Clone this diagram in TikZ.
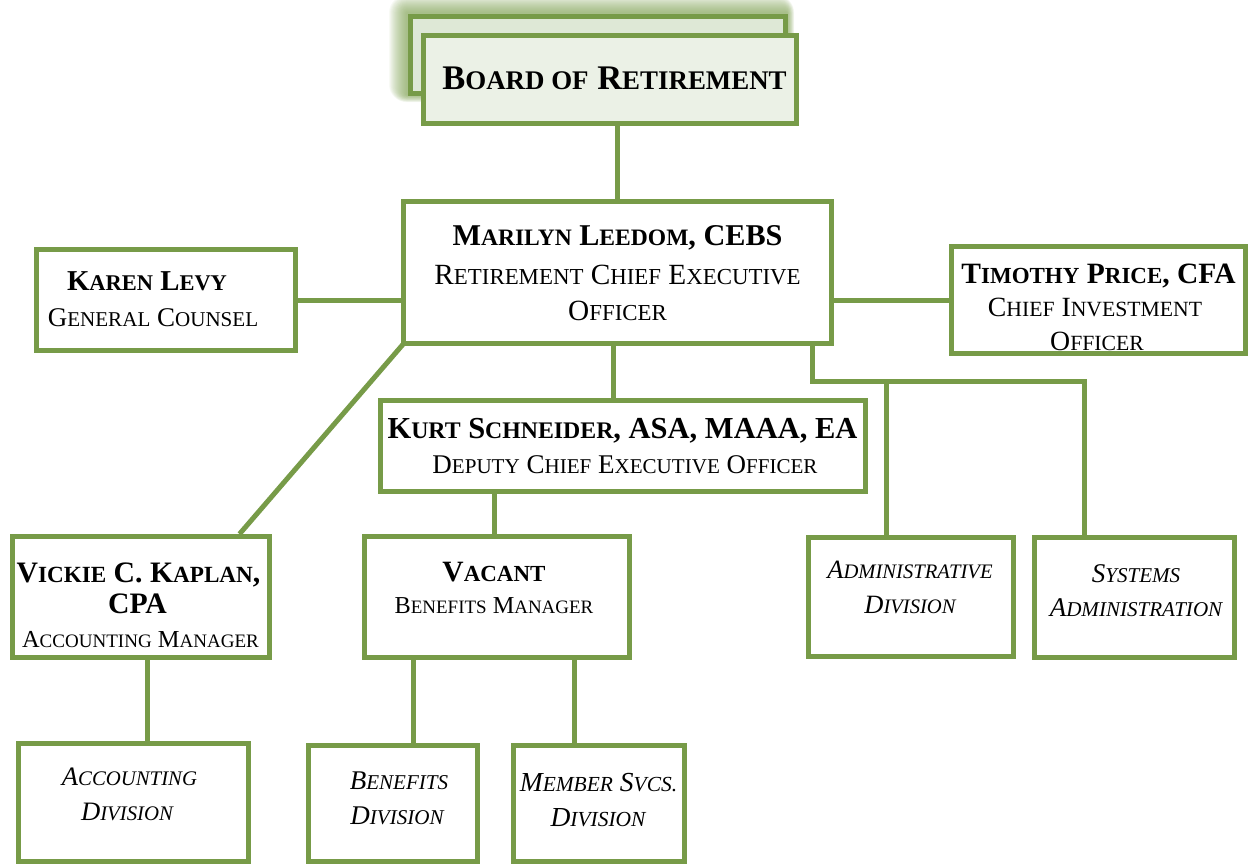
\documentclass[tikz,border=0pt]{standalone}
\usepackage{fontspec}
\usepackage{graphicx}
\setmainfont{Liberation Serif}
\usetikzlibrary{backgrounds}
\definecolor{og}{RGB}{119,155,72}
\definecolor{bfront}{RGB}{235,241,230}
\definecolor{bback}{RGB}{222,232,214}
\newcommand\smc[1]{\scalebox{0.78}{#1}}
\newcommand\bx[6][]{%
  \node[box,#1,minimum width={(#4-#2-5)*1pt},minimum height={(#5-#3-5)*1pt}] (#6) at ({(#2+#4)/2},{(#3+#5)/2}) {};}
\tikzset{
  box/.style={draw=og,line width=5pt,fill=white,inner sep=0pt},
  conn/.style={draw=og,line width=5pt},
  txt/.style={inner sep=0pt,text=black,anchor=base},
  bf/.style={txt,font=\fontsize{#1}{#1}\selectfont\bfseries},
  rg/.style={txt,font=\fontsize{#1}{#1}\selectfont},
  it/.style={txt,font=\fontsize{#1}{#1}\selectfont\itshape},
}
\begin{document}
\begin{tikzpicture}[x=1pt,y=-1pt]
\useasboundingbox (0,0) rectangle (1252,865);
% glow behind the back board box
\foreach \d in {1,...,18}{
  \fill[og,opacity=0.055,rounded corners={\d pt}] ({407-\d},{13-\d}) rectangle ({787+0.4*\d},{95+0.4*\d});
}
\bx[fill=bback]{408}{14}{788}{96}{boardback}
\bx[fill=bfront]{421}{33}{799}{126}{board}
\node[bf=34.5] (board-t) at (614.5,89) {B\smc{OARD OF} R\smc{ETIREMENT}};
\bx{401}{199}{834}{346}{marilyn}
\bx{34}{247}{298}{353}{karen}
\bx{949}{244}{1248}{356}{timothy}
\bx{378}{398}{868}{494}{kurt}
\bx{10}{534}{272}{660}{vickie}
\bx{362}{534}{632}{660}{vacant}
\bx{806}{535}{1016}{659}{admin}
\bx{1032}{535}{1237}{660}{systems}
\bx{16}{741}{251}{864}{acct}
\bx{306}{743}{480}{864}{benef}
\bx{511}{743}{687}{864}{member}
\coordinate (j) at (812,381);
% connectors
\begin{scope}[on background layer]
\draw[conn] (marilyn.north) -- (marilyn.north |- board.south);
\draw[conn] (karen.east) -- (karen.east -| marilyn.west);
\draw[conn] (timothy.west) -- (timothy.west -| marilyn.east);
\draw[conn] ([xshift=-4.5pt]marilyn.south) -- ([xshift=-4.5pt]marilyn.south |- kurt.north);
\draw[conn] ([shift={(4pt,4pt)}]marilyn.south west) -- ([xshift=-32.5pt]vickie.north east);
\draw[conn] ([xshift=194.5pt]marilyn.south) |- ([xshift=-50.5pt]systems.north |- j) -- ([xshift=-50.5pt]systems.north);
\draw[conn] ([xshift=-25pt]admin.north |- j) -- ([xshift=-25pt]admin.north);
\draw[conn] ([xshift=-3pt]vacant.north) -- ([xshift=-3pt]vacant.north |- kurt.south);
\draw[conn] ([xshift=6pt]vickie.south) -- ([xshift=6pt]vickie.south |- acct.north);
\draw[conn] ([xshift=20pt]benef.north) -- ([xshift=20pt]benef.north |- vacant.south);
\draw[conn] ([xshift=-25pt]member.north) -- ([xshift=-25pt]member.north |- vacant.south);
\end{scope}
% texts
\node[bf=30.2] (marilyn-1) at (617.5,245) {M\smc{ARILYN} L\smc{EEDOM}, CEBS};
\node[rg=29.3] (marilyn-2) at (617.5,284) {R\smc{ETIREMENT} C\smc{HIEF} E\smc{XECUTIVE}};
\node[rg=29.3] (marilyn-3) at (617.5,320) {O\smc{FFICER}};
\node[bf=28.8] (karen-1) at (147,290) {K\smc{AREN} L\smc{EVY}};
\node[rg=27] (karen-2) at (153,326) {G\smc{ENERAL} C\smc{OUNSEL}};
\node[bf=29.5] (timothy-1) at (1098.5,283) {T\smc{IMOTHY} P\smc{RICE}, CFA};
\node[rg=27.8] (timothy-2) at (1095,316) {C\smc{HIEF} I\smc{NVESTMENT}};
\node[rg=27.8] (timothy-3) at (1097,350) {O\smc{FFICER}};
\node[bf=30.5] (kurt-1) at (622.5,438) {K\smc{URT} S\smc{CHNEIDER}, ASA, MAAA, EA};
\node[rg=27] (kurt-2) at (625,473) {D\smc{EPUTY} C\smc{HIEF} E\smc{XECUTIVE} O\smc{FFICER}};
\node[bf=29.7] (vickie-1) at (138.5,582) {V\smc{ICKIE} C. K\smc{APLAN},};
\node[bf=29.7] (vickie-2) at (137.5,613) {CPA};
\node[rg=24.4] (vickie-3) at (140.5,647) {A\smc{CCOUNTING} M\smc{ANAGER}};
\node[bf=29.5] (vacant-1) at (494,581) {V\smc{ACANT}};
\node[rg=24.3] (vacant-2) at (494,613) {B\smc{ENEFITS} M\smc{ANAGER}};
\node[it=26.4] (admin-1) at (910,578) {A\smc{DMINISTRATIVE}};
\node[it=26.4] (admin-2) at (910,613) {D\smc{IVISION}};
\node[it=27] (systems-1) at (1136,582) {S\smc{YSTEMS}};
\node[it=27] (systems-2) at (1136,616) {A\smc{DMINISTRATION}};
\node[it=26.6] (acct-1) at (129.5,785) {A\smc{CCOUNTING}};
\node[it=26.6] (acct-2) at (127,820) {D\smc{IVISION}};
\node[it=27] (benef-1) at (399,789) {B\smc{ENEFITS}};
\node[it=27] (benef-2) at (397,824) {D\smc{IVISION}};
\node[it=27.5] (member-1) at (598.5,791) {M\smc{EMBER} S\smc{VCS.}};
\node[it=27.5] (member-2) at (598,826) {D\smc{IVISION}};
\end{tikzpicture}
\end{document}
